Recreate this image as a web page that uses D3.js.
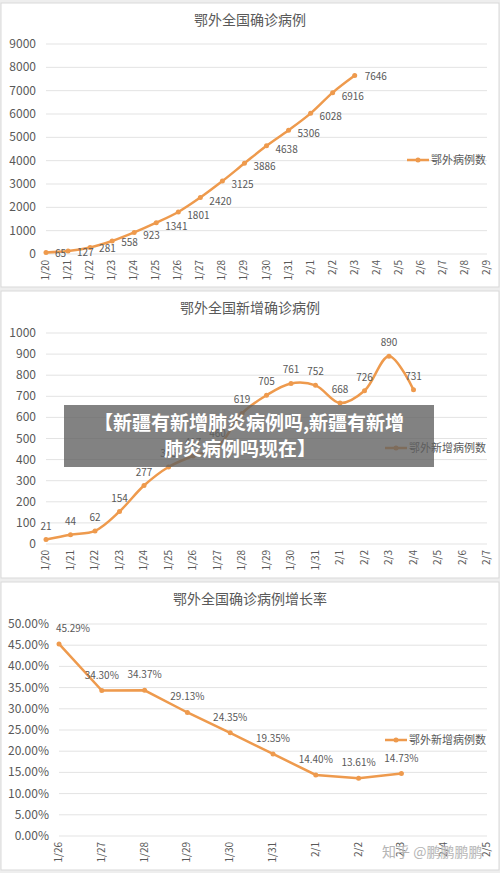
<!DOCTYPE html>
<html><head><meta charset="utf-8">
<script src="https://cdn.jsdelivr.net/npm/d3@7"></script>
<style>body{margin:0;background:#eeeeee;}svg{display:block;font-family:"Noto Sans CJK SC","Noto Sans",sans-serif;}</style>
</head><body>
<svg id="c" width="500" height="873"></svg>
<script>
// panel 1: cumulative
var dates1 = ["1/20","1/21","1/22","1/23","1/24","1/25","1/26","1/27","1/28","1/29","1/30","1/31","2/1","2/2","2/3","2/4","2/5","2/6","2/7","2/8","2/9"];
var total = [65,127,281,558,923,1341,1801,2420,3125,3886,4638,5306,6028,6916,7646];
// panel 2: new cases
var dates2 = ["1/20","1/21","1/22","1/23","1/24","1/25","1/26","1/27","1/28","1/29","1/30","1/31","2/1","2/2","2/3","2/4","2/5","2/6","2/7"];
var newCases = [21,44,62,154,277,365,417,460,619,705,761,752,668,726,890,731];
// panel 3: growth rate
var dates3 = ["1/26","1/27","1/28","1/29","1/30","1/31","2/1","2/2","2/3","2/4","2/5"];
var rate = [45.29,34.30,34.37,29.13,24.35,19.35,14.40,13.61,14.73];

var orange = "#ee9a4d", grey = "#595959";
var svg = d3.select("#c");

function panel(o) {
  var g = svg.append("g");
  g.append("rect").attr("x",1).attr("y",o.top).attr("width",498).attr("height",o.h)
    .attr("fill","#fff").attr("stroke","#d9d9d9");
  g.append("text").attr("x",o.titleX).attr("y",o.top+22).attr("text-anchor","middle")
    .attr("font-size",14).attr("fill",grey).text(o.title);
  var x = d3.scalePoint().domain(o.dates).range([o.x0,487]);
  var y = d3.scaleLinear().domain([0,o.max]).range([o.y0,o.y1]);
  g.selectAll(".grid").data(y.ticks(o.nt)).enter().append("line")
    .attr("x1",o.x0).attr("x2",487).attr("y1",d=>y(d)).attr("y2",d=>y(d))
    .attr("stroke","#e3e3e3");
  g.selectAll(".yl").data(y.ticks(o.nt)).enter().append("text")
    .attr("x",o.x0-10).attr("y",d=>y(d)+4).attr("text-anchor","end")
    .attr("font-size",12).attr("fill",grey).text(o.fmt);
  g.selectAll(".xl").data(o.dates).enter().append("text")
    .attr("transform",d=>"translate("+(x(d)+3)+","+(o.y0+6)+") rotate(-90)")
    .attr("text-anchor","end").attr("font-size",10).attr("fill",grey).text(d=>d);
  var pts = o.vals.map((v,i)=>[x(o.dates[i]),y(v)]);
  g.append("path").attr("d",d3.line().curve(o.curve)(pts)).attr("fill","none")
    .attr("stroke",orange).attr("stroke-width",2.5);
  g.selectAll(".pt").data(pts).enter().append("circle")
    .attr("cx",d=>d[0]).attr("cy",d=>d[1]).attr("r",2.5).attr("fill",orange);
  g.selectAll(".lb").data(o.vals).enter().append("text")
    .attr("x",(d,i)=>pts[i][0]+o.ldx(i)).attr("y",(d,i)=>pts[i][1]+o.ldy(i))
    .attr("text-anchor",o.anchor).attr("font-size",10).attr("fill",grey).text(o.lfmt);
  g.append("line").attr("x1",o.legX).attr("x2",o.legX+22).attr("y1",o.legY).attr("y2",o.legY)
    .attr("stroke",orange).attr("stroke-width",2.5);
  g.append("circle").attr("cx",o.legX+11).attr("cy",o.legY).attr("r",2.5).attr("fill",orange);
  g.append("text").attr("x",o.legX+24).attr("y",o.legY+4).attr("font-size",11)
    .attr("fill",grey).text(o.legend);
  return g;
}

panel({top:3,h:284,title:"鄂外全国确诊病例",titleX:250,dates:dates1,vals:total,max:9000,nt:9,
  x0:46,y0:254,y1:44,fmt:d=>d,curve:d3.curveCatmullRom,anchor:"start",
  ldx:i=>i==total.length-1?10:9,ldy:i=>i==total.length-1?4:(i<4?5:7),lfmt:d=>d,
  legX:407,legY:160,legend:"鄂外病例数"});

panel({top:291,h:287,title:"鄂外全国新增确诊病例",titleX:250,dates:dates2,vals:newCases,max:1000,nt:10,
  x0:46,y0:544,y1:333,fmt:d=>d,curve:d3.curveCatmullRom,anchor:"middle",
  ldx:i=>0,ldy:i=>-10,lfmt:d=>d,legX:385,legY:448,legend:"鄂外新增病例数"});

panel({top:582,h:288,title:"鄂外全国确诊病例增长率",titleX:250,dates:dates3,vals:rate,max:50,nt:10,
  x0:59,y0:836,y1:624,fmt:d=>d3.format(".2f")(d)+"%",curve:d3.curveLinear,anchor:"middle",
  ldx:i=>i==0?14:0,ldy:i=>i==0?-12:-12,lfmt:d=>d3.format(".2f")(d)+"%",
  legX:385,legY:740,legend:"鄂外新增病例数"});

// watermark
svg.append("text").attr("x",382).attr("y",857).attr("font-size",14).attr("fill","#b5b5b5")
  .text("知乎 @鹏鹏鹏鹏");

// banner overlay
svg.append("rect").attr("x",64).attr("y",405).attr("width",370).attr("height",62)
  .attr("fill","rgba(95,95,95,0.78)");
var bt = svg.append("text").attr("text-anchor","middle").attr("font-size",19)
  .attr("font-weight","bold").attr("fill","#fff");
bt.append("tspan").attr("x",249).attr("y",430).text("【新疆有新增肺炎病例吗,新疆有新增");
bt.append("tspan").attr("x",240).attr("y",456).text("肺炎病例吗现在】");
</script>
</body></html>
